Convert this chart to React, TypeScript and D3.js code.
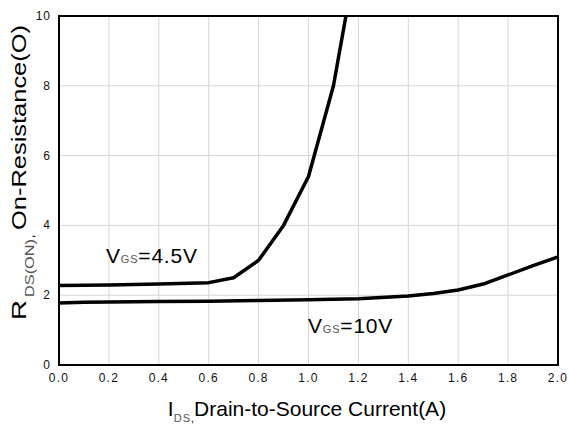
import React from "react";
import * as d3 from "d3";

const xTicks = [0, 0.2, 0.4, 0.6, 0.8, 1.0, 1.2, 1.4, 1.6, 1.8, 2.0];
const yTicks = [0, 2, 4, 6, 8, 10];

const vgs45X = [0, 0.2, 0.4, 0.6, 0.7, 0.8, 0.9, 1.0, 1.1, 1.15];
const vgs45Y = [2.28, 2.29, 2.32, 2.36, 2.5, 3.0, 4.0, 5.4, 8.0, 10.0];

const vgs10X = [0, 0.1, 0.4, 0.6, 0.8, 1.0, 1.2, 1.4, 1.5, 1.6, 1.7, 1.8, 1.9, 2.0];
const vgs10Y = [1.78, 1.8, 1.82, 1.83, 1.85, 1.87, 1.9, 1.98, 2.05, 2.15, 2.32, 2.58, 2.85, 3.1];

const W = 569;
const H = 424;
const M = { left: 59, right: 558, top: 16, bottom: 365 };
const FONT = "'Liberation Sans', Arial, sans-serif";

export default function App() {
  const x = d3.scaleLinear().domain([0, 2]).range([M.left, M.right]);
  const y = d3.scaleLinear().domain([0, 10]).range([M.bottom, M.top]);
  const line = d3
    .line<[number, number]>()
    .x((d) => x(d[0]))
    .y((d) => y(d[1]));
  const s45 = vgs45X.map((v, i) => [v, vgs45Y[i]] as [number, number]);
  const s10 = vgs10X.map((v, i) => [v, vgs10Y[i]] as [number, number]);

  return (
    <svg
      width={W}
      height={H}
      style={{ position: "absolute", left: 0, top: 0, background: "#fff" }}
      fontFamily={FONT}
    >
      <rect x={0} y={0} width={W} height={H} fill="#fff" />
      <defs>
        <clipPath id="plot">
          <rect x={M.left} y={M.top} width={M.right - M.left} height={M.bottom - M.top} />
        </clipPath>
      </defs>
      {xTicks.slice(1, -1).map((t) => (
        <line key={"gx" + t} x1={x(t)} x2={x(t)} y1={M.top} y2={M.bottom} stroke="#d4d4d4" strokeWidth={1} />
      ))}
      {yTicks.slice(1, -1).map((t) => (
        <line key={"gy" + t} x1={M.left} x2={M.right} y1={y(t)} y2={y(t)} stroke="#d4d4d4" strokeWidth={1} />
      ))}
      <g clipPath="url(#plot)">
        <path d={line(s45) || ""} fill="none" stroke="#000" strokeWidth={3.5} strokeLinejoin="round" />
        <path d={line(s10) || ""} fill="none" stroke="#000" strokeWidth={3.5} strokeLinejoin="round" />
      </g>
      <rect
        x={M.left}
        y={M.top}
        width={M.right - M.left}
        height={M.bottom - M.top}
        fill="none"
        stroke="#000"
        strokeWidth={2}
      />
      {xTicks.map((t) => (
        <text key={"xt" + t} x={x(t)} y={M.bottom + 17} textAnchor="middle" fontSize={12} letterSpacing={1.2} fill="#111">
          {t.toFixed(1)}
        </text>
      ))}
      {yTicks.map((t) => (
        <text key={"yt" + t} x={M.left - 8} y={y(t) + 4} textAnchor="end" fontSize={12} letterSpacing={1} fill="#111">
          {t}
        </text>
      ))}
      <text x={106} y={263} fontSize={21} fill="#000" letterSpacing={0.8}>
        V<tspan fontSize={11} fill="#555">GS</tspan>=4.5V
      </text>
      <text x={308} y={333} fontSize={21} fill="#000" letterSpacing={0.8}>
        V<tspan fontSize={11} fill="#555">GS</tspan>=10V
      </text>
      <text x={307} y={416} textAnchor="middle" fontSize={21} fill="#000">
        I<tspan fontSize={11} fill="#555" dy={6} letterSpacing={1}>DS</tspan>
        <tspan fontSize={11} fill="#000">,</tspan>
        <tspan dy={-6}>Drain-to-Source Current(A)</tspan>
      </text>
      <g transform="translate(26, 0) rotate(-90)">
        <text x={-320} y={0} fontSize={21} fill="#000" textLength={20} lengthAdjust="spacingAndGlyphs">R</text>
        <text x={-297} y={8} fontSize={12} fill="#555" textLength={58} lengthAdjust="spacingAndGlyphs">
          DS(ON)
        </text>
        <text x={-238} y={8} fontSize={12} fill="#000">,</text>
        <text x={-230} y={0} fontSize={21} fill="#000" textLength={205} lengthAdjust="spacingAndGlyphs">
          On-Resistance(O)
        </text>
      </g>
    </svg>
  );
}
